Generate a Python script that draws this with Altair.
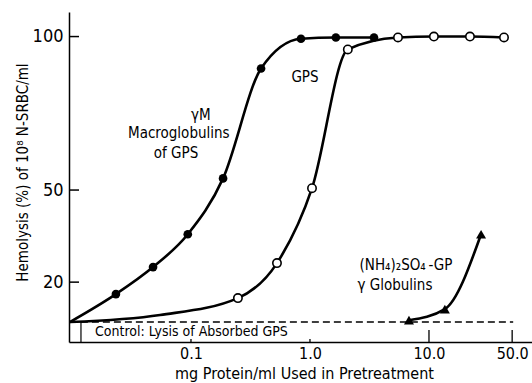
import altair as alt
import pandas as pd

# --- data ---
# gamma-M macroglobulins of GPS (filled circles)
x_gm = [0.0234, 0.048, 0.094, 0.186, 0.388, 0.84, 1.65, 3.45]
y_gm = [16.1, 24.9, 35.6, 53.8, 89.6, 99.3, 99.7, 99.7]
# GPS (open circles)
x_gps = [0.248, 0.528, 1.04, 2.08, 5.49, 11.0, 22.1, 42.7]
y_gps = [14.8, 26.2, 50.6, 95.8, 99.7, 100.0, 100.0, 99.7]
# (NH4)2SO4-GP gamma globulins (triangles)
x_am = [6.79, 13.6, 27.4]
y_am = [7.6, 11.2, 35.6]

# curve anchors
curve_start_x = 0.0096
control_level = 7.0
gps_mid_x = [0.055]
gps_mid_y = [9.3]
control_end_x = 51.0
box_edge_x = 0.0119

x_ticks = [0.1, 1.0, 10.0, 50.0]
x_long_ticks = [10.0, 50.0]
x_short_ticks = [0.1, 1.0]
y_ticks = [20, 50, 100]

labels_text = ["\u03b3M", "Macroglobulins", "of GPS", "GPS",
               "(NH\u2084)\u2082SO\u2084\u2009-GP", "\u03b3 Globulins"]
labels_x = [0.121, 0.079, 0.0748, 0.908, 6.41, 5.18]
labels_y = [74.6, 68.5, 62.0, 86.7, 25.5, 19.0]
control_text = "Control: Lysis of Absorbed GPS"
control_text_x = 0.0156
control_text_y = 3.7

FONT = "Liberation Sans Narrow, DejaVu Sans Condensed, Liberation Sans, sans-serif"

xs = alt.Scale(type="log", domain=[0.00944, 73.4])
ys = alt.Scale(domain=[0.5, 108])

xaxis = alt.Axis(values=x_ticks, format=".1f", ticks=False, grid=False,
                 domainColor="black", domainWidth=1.5, labelColor="black",
                 labelFont=FONT, labelFontSize=16, labelPadding=3,
                 labelOverlap=False, labelFlush=False,
                 title="mg Protein/ml Used in Pretreatment", titleFont=FONT,
                 titleFontSize=16, titleFontWeight="normal", titleColor="black",
                 titleX=235, titleY=31, titleBaseline="middle", titleAlign="center")
yaxis = alt.Axis(values=y_ticks, ticks=False, grid=False,
                 domainColor="black", domainWidth=1.5, labelColor="black",
                 labelFont=FONT, labelFontSize=18, labelPadding=6,
                 title="Hemolysis (%) of 10\u2078 N-SRBC/ml", titleFont=FONT,
                 titleFontSize=15, titleFontWeight="normal", titleColor="black",
                 titleX=-47, titleY=160, titleBaseline="middle", titleAlign="center",
                 titleAngle=270)

X = alt.X("x:Q", scale=xs, axis=xaxis)
Y = alt.Y("y:Q", scale=ys, axis=yaxis)

gm_pts = pd.DataFrame({"x": x_gm, "y": y_gm})
gps_pts = pd.DataFrame({"x": x_gps, "y": y_gps})
am_pts = pd.DataFrame({"x": x_am, "y": y_am})
gm_curve = pd.DataFrame({"x": [curve_start_x] + x_gm, "y": [control_level] + y_gm})
gps_curve = pd.DataFrame({"x": [curve_start_x] + gps_mid_x + x_gps,
                          "y": [control_level] + gps_mid_y + y_gps})

line_style = dict(color="black", strokeWidth=2.6, interpolate="monotone")

control_df = pd.DataFrame({"x": [curve_start_x], "x2": [control_end_x], "y": [control_level]})
control_line = alt.Chart(control_df).mark_rule(
    color="black", strokeWidth=1.4, strokeDash=[7, 4]
).encode(x=X, x2="x2:Q", y=Y)

box_edge = alt.Chart(pd.DataFrame({"x": [box_edge_x], "y": [0.5], "y2": [control_level]})).mark_rule(
    color="black", strokeWidth=1.2).encode(x=X, y=Y, y2="y2:Q")

gm_line = alt.Chart(gm_curve).mark_line(**line_style).encode(x=X, y=Y)
gps_line = alt.Chart(gps_curve).mark_line(**line_style).encode(x=X, y=Y)
am_line = alt.Chart(am_pts).mark_line(**line_style).encode(x=X, y=Y)

gm_marks = alt.Chart(gm_pts).mark_point(shape="circle", filled=True, color="black",
                                        size=75, opacity=1).encode(x=X, y=Y)
gps_marks = alt.Chart(gps_pts).mark_point(shape="circle", filled=True, fill="white",
                                          stroke="black", strokeWidth=1.6, size=70,
                                          opacity=1).encode(x=X, y=Y)
am_marks = alt.Chart(am_pts).mark_point(shape="triangle-up", filled=True, color="black",
                                        size=100, opacity=1).encode(x=X, y=Y)

long_ticks = alt.Chart(pd.DataFrame({"x": x_long_ticks})).mark_rule(
    color="black", strokeWidth=1.3).encode(x=X, y=alt.value(330), y2=alt.value(318))
short_ticks = alt.Chart(pd.DataFrame({"x": x_short_ticks})).mark_rule(
    color="black", strokeWidth=1.3).encode(x=X, y=alt.value(330), y2=alt.value(327))
y_tick_marks = alt.Chart(pd.DataFrame({"y": y_ticks})).mark_rule(
    color="black", strokeWidth=1.5).encode(y=Y, x=alt.value(0), x2=alt.value(10))

ann = alt.Chart(pd.DataFrame({"x": labels_x, "y": labels_y, "t": labels_text})).mark_text(
    font=FONT, fontSize=15, color="black", align="center", baseline="middle"
).encode(x=X, y=Y, text="t:N")

ctrl_txt = alt.Chart(pd.DataFrame({"x": [control_text_x], "y": [control_text_y],
                                   "t": [control_text]})).mark_text(
    font=FONT, fontSize=14, color="black", align="left", baseline="middle"
).encode(x=X, y=Y, text="t:N")

chart = alt.layer(
    control_line, box_edge, gm_line, gps_line, am_line,
    gm_marks, gps_marks, am_marks, long_ticks, short_ticks, y_tick_marks,
    ann, ctrl_txt
).properties(
    width=463, height=330,
    autosize=alt.AutoSizeParams(type="none"),
    padding={"left": 69, "top": 12, "right": 0, "bottom": 41},
    background="white",
).configure_view(stroke=None)

chart.save("out.html", embed_options={"renderer": "svg", "actions": False})
